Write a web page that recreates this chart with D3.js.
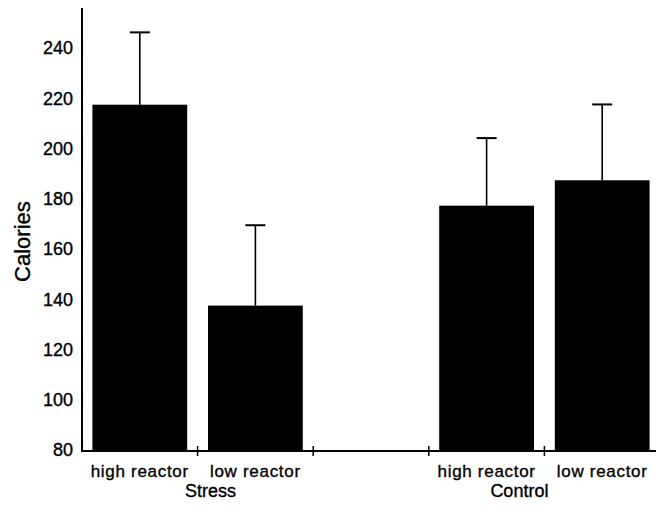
<!DOCTYPE html>
<html>
<head>
<meta charset="utf-8">
<script src="https://cdn.jsdelivr.net/npm/d3@7"></script>
<style>
  html, body { margin: 0; padding: 0; background: #fff; }
  svg { display: block; }
  text {
    font-family: "Liberation Sans", Arial, sans-serif;
    fill: #000;
    stroke: #000;
    stroke-width: 0.35px;
  }
</style>
</head>
<body>
<svg id="chart" width="656" height="508"></svg>
<script>
// Slots along the x axis. The middle slot is left empty as a spacer.
const slots = ['stress-high', 'stress-low', 'gap', 'control-high', 'control-low'];
const barSlots = ['stress-high', 'stress-low', 'control-high', 'control-low'];
const barLabels = ['high reactor', 'low reactor', 'high reactor', 'low reactor'];
const means = [217.5, 137.5, 177.3, 187.4];
const errorTops = [246.3, 169.5, 204.2, 217.6];

const groupNames = ['Stress', 'Control'];
const groupSlots = [['stress-high', 'stress-low'], ['control-high', 'control-low']];

const yTicks = [80, 100, 120, 140, 160, 180, 200, 220, 240];
const yDomain = [80, 256];

const margin = {left: 82, right: -4, top: 8, bottom: 58};
const width = 656;
const height = 508;

const svg = d3.select('#chart');

const x = d3.scaleBand()
    .domain(slots)
    .range([margin.left, width - margin.right])
    .paddingInner(0.18)
    .paddingOuter(0.09);

const y = d3.scaleLinear()
    .domain(yDomain)
    .range([height - margin.bottom, margin.top]);

const baseY = y(yDomain[0]);

// Bars.
svg.append('g')
    .selectAll('rect')
    .data(barSlots)
    .join('rect')
    .attr('x', (d) => x(d))
    .attr('width', x.bandwidth())
    .attr('y', (d, i) => y(means[i]))
    .attr('height', (d, i) => baseY - y(means[i]))
    .attr('fill', '#000');

// Upper error bars only.
const errGroup = svg.append('g')
    .attr('stroke', '#000')
    .attr('fill', 'none');
barSlots.forEach((d, i) => {
  const cx = x(d) + x.bandwidth() / 2;
  errGroup.append('line')
      .attr('x1', cx).attr('x2', cx)
      .attr('y1', y(means[i])).attr('y2', y(errorTops[i]))
      .attr('stroke-width', 1.6);
  errGroup.append('line')
      .attr('x1', cx - 10).attr('x2', cx + 10)
      .attr('y1', y(errorTops[i])).attr('y2', y(errorTops[i]))
      .attr('stroke-width', 2);
});

// Y axis: no visible ticks, labels only.
const yAxis = svg.append('g')
    .attr('transform', `translate(${margin.left},0)`)
    .call(d3.axisLeft(y)
        .tickValues(yTicks)
        .tickSize(0)
        .tickPadding(9));
yAxis.select('.domain')
    .attr('stroke', '#000')
    .attr('stroke-width', 2)
    .attr('d', `M0,${y(yDomain[1])}V${baseY + 1}`);
yAxis.selectAll('text')
    .attr('font-size', 18)
    .attr('font-family', '"Liberation Sans", Arial, sans-serif');

// X axis baseline with small crossing ticks at the slot boundaries.
const step = x.step();
const xAxis = svg.append('g');
xAxis.append('line')
    .attr('x1', margin.left - 1)
    .attr('x2', width + 10)
    .attr('y1', baseY + 1)
    .attr('y2', baseY + 1)
    .attr('stroke', '#000')
    .attr('stroke-width', 2);
xAxis.selectAll('line.tick')
    .data(slots.slice(0, -1))
    .join('line')
    .attr('class', 'tick')
    .attr('x1', (d) => x(d) + x.bandwidth() + (step - x.bandwidth()) / 2)
    .attr('x2', (d) => x(d) + x.bandwidth() + (step - x.bandwidth()) / 2)
    .attr('y1', baseY - 4)
    .attr('y2', baseY + 6)
    .attr('stroke', '#000')
    .attr('stroke-width', 1.5);

// Category labels under each bar.
svg.append('g')
    .selectAll('text')
    .data(barSlots)
    .join('text')
    .attr('x', (d) => x(d) + x.bandwidth() / 2)
    .attr('y', baseY + 27)
    .attr('text-anchor', 'middle')
    .attr('font-size', 17)
    .attr('letter-spacing', 0.7)
    .text((d, i) => barLabels[i]);

// Group labels. They sit a little off the group centre in the original.
const groupNudge = [13, -25];
svg.append('g')
    .selectAll('text')
    .data(groupNames)
    .join('text')
    .attr('x', (d, i) => {
      const a = x(groupSlots[i][0]);
      const b = x(groupSlots[i][1]) + x.bandwidth();
      return (a + b) / 2 + groupNudge[i];
    })
    .attr('y', baseY + 47)
    .attr('text-anchor', 'middle')
    .attr('font-size', 18)
    .text((d) => d);

// Y axis title.
svg.append('text')
    .attr('transform', `translate(30,${y(163)}) rotate(-90)`)
    .attr('text-anchor', 'middle')
    .attr('font-size', 22)
    .text('Calories');
</script>
</body>
</html>
